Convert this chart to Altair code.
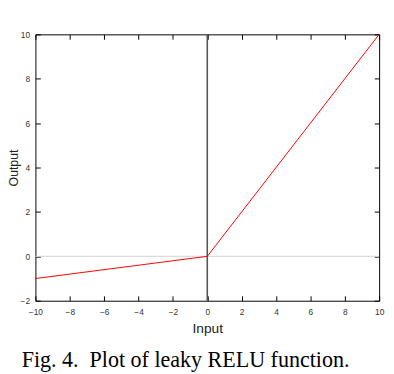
import altair as alt
import pandas as pd

x_vals = [-10, 0, 10]
y_vals = [-1, 0, 10]
x_ticks = [-10, -8, -6, -4, -2, 0, 2, 4, 6, 8, 10]
y_ticks = [-2, 0, 2, 4, 6, 8, 10]
caption = "Fig. 4.\u00a0 Plot of leaky RELU function."

df = pd.DataFrame({"x": x_vals, "y": y_vals})
zero = pd.DataFrame({"v": [0]})

xs = alt.Scale(domain=[-10, 10], nice=False, zero=False)
ys = alt.Scale(domain=[-2, 10], nice=False, zero=False)

lab_font = "Liberation Sans"

ax_x = alt.Axis(values=x_ticks, orient="bottom", offset=-5, tickSize=5, tickColor="#000",
                domain=False, grid=False, labelFont=lab_font, labelFontSize=8.5, labelFlush=False,
                labelColor="#333", labelPadding=7, title="Input", titleFont=lab_font,
                titleFontSize=14, titleFontWeight="normal", titleColor="#222", titlePadding=6)
ax_y = alt.Axis(values=y_ticks, orient="left", offset=-5, tickSize=5, tickColor="#000",
                domain=False, grid=False, labelFont=lab_font, labelFontSize=8.5, labelFlush=False,
                labelColor="#333", labelPadding=6, title="Output", titleFont=lab_font,
                titleFontSize=12.5, titleFontWeight="normal", titleColor="#222", titlePadding=0)
ax_x2 = alt.Axis(values=x_ticks, orient="top", offset=-5, tickSize=5, tickColor="#000",
                 domain=False, grid=False, labels=False, title=None)
ax_y2 = alt.Axis(values=y_ticks, orient="right", offset=-5, tickSize=5, tickColor="#000",
                 domain=False, grid=False, labels=False, title=None)

hline = alt.Chart(zero).mark_rule(color="#d4d4d4", strokeWidth=1).encode(
    y=alt.Y("v:Q", scale=ys, axis=ax_y)
)
vline = alt.Chart(zero).mark_rule(color="#555555", strokeWidth=1.6).encode(
    x=alt.X("v:Q", scale=xs, axis=ax_x)
)
line = alt.Chart(df).mark_line(color="#ff0000", strokeWidth=1).encode(
    x=alt.X("x:Q", scale=xs, axis=ax_x2),
    y=alt.Y("y:Q", scale=ys, axis=ax_y2),
)

chart = alt.layer(hline, vline, line).resolve_axis(x="independent", y="independent").properties(
    width=351,
    height=272,
    autosize=alt.AutoSizeParams(type="none"),
    padding={"left": 28, "top": 23, "right": 7, "bottom": 75},
    title=alt.TitleParams(caption, orient="bottom", anchor="start", frame="group", dx=-14, offset=14,
                          font="Liberation Serif", fontSize=22.5, fontWeight="normal", color="#000"),
).configure_view(stroke="#000", strokeWidth=1)

chart.save("out.html", embed_options={"renderer": "svg", "actions": False})
